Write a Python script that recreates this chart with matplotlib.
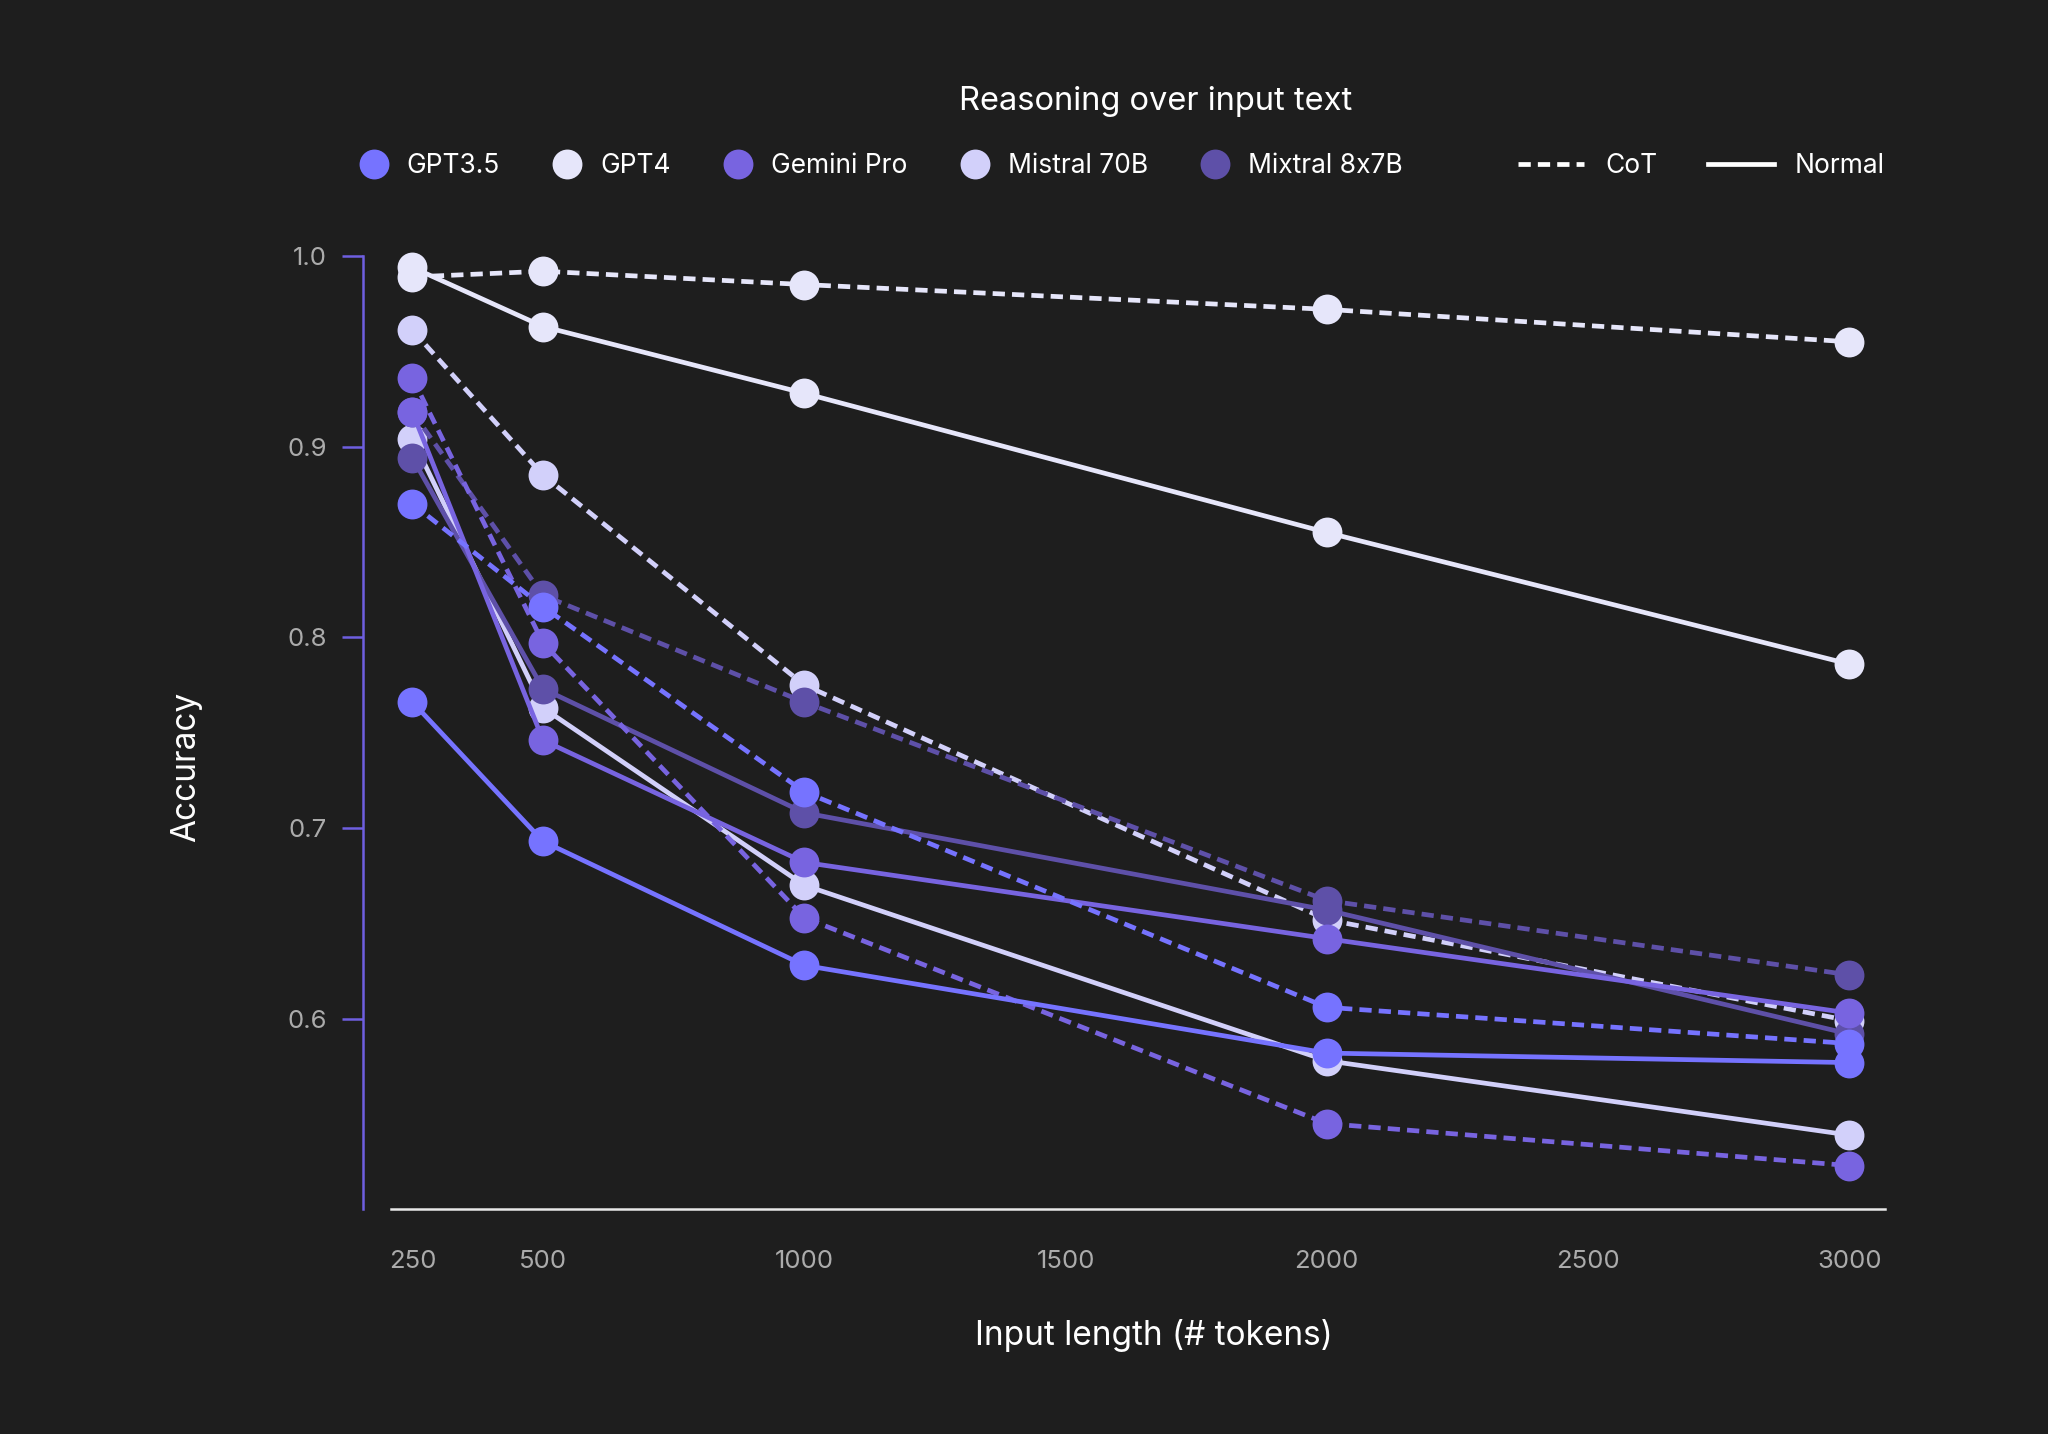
import numpy as np
import matplotlib
matplotlib.use("Agg")
import matplotlib.pyplot as plt
from matplotlib.lines import Line2D

# data
tokens = [250, 500, 1000, 2000, 3000]
models = ["GPT3.5", "GPT4", "Gemini Pro", "Mistral 70B", "Mixtral 8x7B"]

gpt35_cot = [0.870, 0.816, 0.719, 0.606, 0.587]
gpt35_normal = [0.766, 0.693, 0.628, 0.582, 0.577]
gpt4_cot = [0.989, 0.992, 0.985, 0.972, 0.955]
gpt4_normal = [0.994, 0.963, 0.928, 0.855, 0.786]
gemini_cot = [0.936, 0.797, 0.653, 0.545, 0.523]
gemini_normal = [0.918, 0.746, 0.682, 0.642, 0.603]
mistral_cot = [0.961, 0.885, 0.775, 0.652, 0.599]
mistral_normal = [0.904, 0.763, 0.670, 0.578, 0.539]
mixtral_cot = [0.918, 0.822, 0.766, 0.662, 0.623]
mixtral_normal = [0.894, 0.773, 0.708, 0.657, 0.592]

colors = {
    "GPT3.5": "#7673FF",
    "GPT4": "#E6E6FA",
    "Gemini Pro": "#7864E0",
    "Mistral 70B": "#D2D0FA",
    "Mixtral 8x7B": "#5E50A8",
}

series = {
    "GPT3.5": (gpt35_cot, gpt35_normal),
    "GPT4": (gpt4_cot, gpt4_normal),
    "Gemini Pro": (gemini_cot, gemini_normal),
    "Mistral 70B": (mistral_cot, mistral_normal),
    "Mixtral 8x7B": (mixtral_cot, mixtral_normal),
}
draw_order = ["Mistral 70B", "Mixtral 8x7B", "Gemini Pro", "GPT3.5", "GPT4"]

bg = "#1E1E1E"
plt.rcParams["font.family"] = ["Inter", "DejaVu Sans"]

fig = plt.figure(figsize=(20.48, 14.34), dpi=100, facecolor=bg)
ax = fig.add_axes([0.1907, 0.1566, 0.7296, 0.6649], facecolor=bg)

lw = 3.4
ms = 21.5
dash = (0, (2.6, 1.5))
for z, name in enumerate(draw_order):
    cot, normal = series[name]
    c = colors[name]
    ax.plot(tokens, cot, color=c, lw=lw, ls=dash, marker="o", ms=ms,
            mew=0, clip_on=False, zorder=3 + z)
    ax.plot(tokens, normal, color=c, lw=lw, ls="-", marker="o", ms=ms,
            mew=0, clip_on=False, zorder=3 + z)

ax.set_xlim(208, 3068)
ax.set_ylim(0.5, 1.0)
ax.set_xticks([250, 500, 1000, 1500, 2000, 2500, 3000])
ax.set_yticks([0.6, 0.7, 0.8, 0.9, 1.0])
ax.yaxis.set_major_formatter(matplotlib.ticker.FormatStrFormatter("%.1f"))

for s in ["top", "right"]:
    ax.spines[s].set_visible(False)
ax.spines["left"].set_position(("outward", 20))
ax.spines["left"].set_color("#6E5FE0")
ax.spines["left"].set_linewidth(1.8)
ax.spines["bottom"].set_color("#E8E8E8")
ax.spines["bottom"].set_linewidth(1.8)

ax.tick_params(axis="y", colors="#6E5FE0", length=15, width=1.8, pad=11,
               labelsize=18.5, labelcolor="#ABABAB")
ax.tick_params(axis="x", length=0, pad=29, labelsize=18.5, labelcolor="#ABABAB")

ax.set_ylabel("Accuracy", fontsize=24, color="white")
ax.yaxis.set_label_coords(-0.126, 0.464)
ax.set_xlabel("Input length (# tokens)", fontsize=24, color="white")
ax.xaxis.set_label_coords(0.511, -0.115)

fig.text(0.5645, 0.929, "Reasoning over input text", ha="center", va="center",
         fontsize=23.5, color="white")

model_handles = [Line2D([], [], ls="none", marker="o", ms=ms, mew=0, color=colors[m])
                 for m in models]
leg1 = fig.legend(model_handles, models, loc="center left",
                  bbox_to_anchor=(0.176, 0.8842), ncol=5, frameon=False,
                  fontsize=19, labelcolor="white", handlelength=1.0,
                  handletextpad=0.75, columnspacing=2.05, borderpad=0,
                  borderaxespad=0)

style_handles = [Line2D([], [], color="white", lw=lw, ls=dash),
                 Line2D([], [], color="white", lw=lw, ls="-")]
leg2 = fig.legend(style_handles, ["CoT", "Normal"], loc="center right",
                  bbox_to_anchor=(0.9203, 0.8842), ncol=2, frameon=False,
                  fontsize=19, labelcolor="white", handlelength=2.5,
                  handletextpad=0.8, columnspacing=1.9, borderpad=0,
                  borderaxespad=0)

fig.savefig("out.png", dpi=100, facecolor=bg)
